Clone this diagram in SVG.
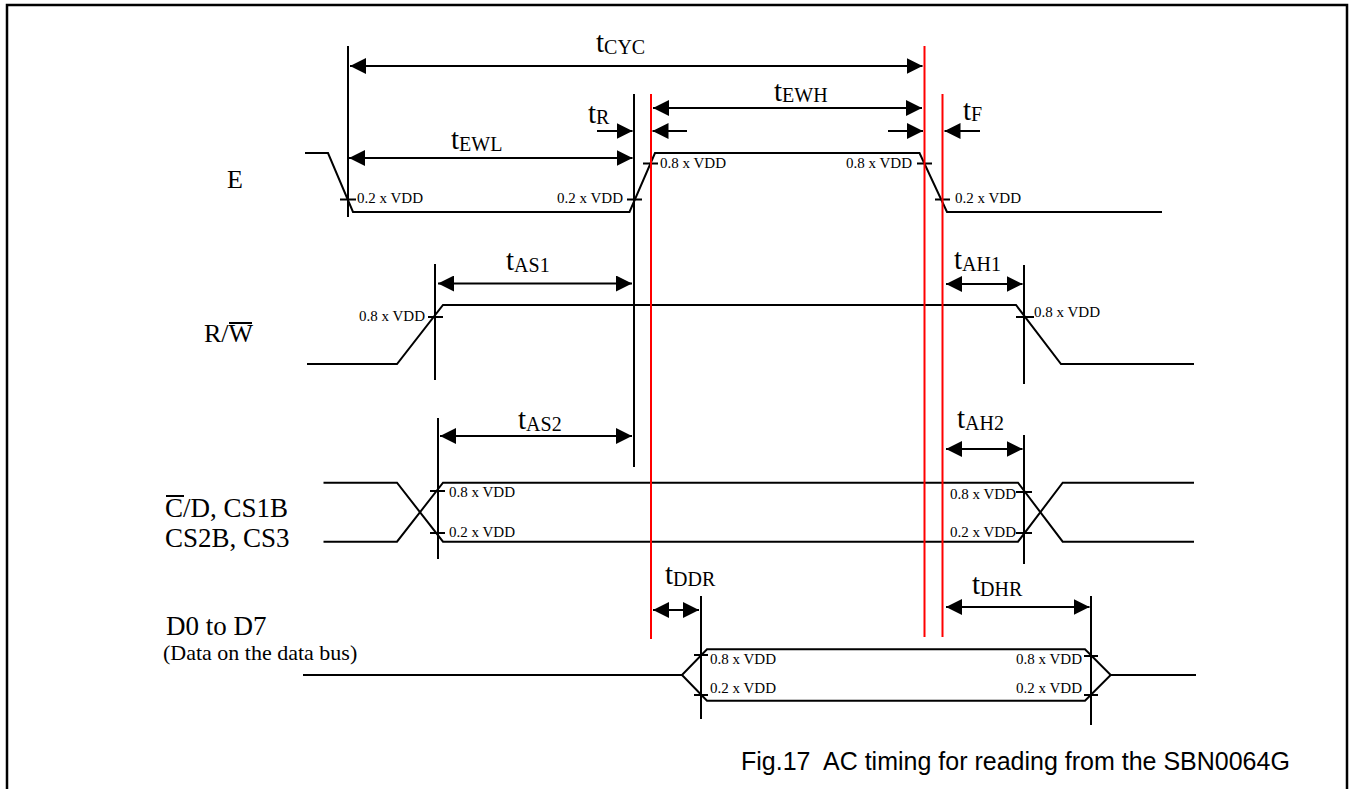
<svg xmlns="http://www.w3.org/2000/svg" width="1353" height="789" viewBox="0 0 1353 789">
<defs>
<marker id="ah" markerUnits="userSpaceOnUse" markerWidth="16" markerHeight="16" refX="16" refY="8" orient="auto-start-reverse" viewBox="0 0 16 16"><path d="M0,0 L16,8 L0,16 Z" fill="#000"/></marker>
</defs>
<style>
.ln{stroke:#000;stroke-width:2;fill:none}
.red{stroke:#ff0000;stroke-width:2;fill:none}
.ar{stroke:#000;stroke-width:2;fill:none;marker-end:url(#ah)}
.ar2{stroke:#000;stroke-width:2;fill:none;marker-start:url(#ah);marker-end:url(#ah)}
.sig{font-family:"Liberation Serif","Times New Roman",serif;font-size:26px;fill:#000}
.sig2{font-family:"Liberation Serif","Times New Roman",serif;font-size:27px;fill:#000}
.dsc{font-family:"Liberation Serif","Times New Roman",serif;font-size:22px;fill:#000}
.v{font-family:"Liberation Serif","Times New Roman",serif;font-size:15px;fill:#000}
.t{font-family:"Liberation Serif","Times New Roman",serif;font-size:29px;fill:#000}
.sub{font-size:20px}
.cap{font-family:"Liberation Sans",Arial,sans-serif;font-size:25px;fill:#000}
</style>
<rect x="0" y="0" width="1353" height="789" fill="#fff"/>
<path d="M7,795 V5 H1347 V795" fill="none" stroke="#000" stroke-width="2.5"/>

<g id="sig-E">
<text class="sig" x="227" y="188">E</text>
<path class="ln" d="M305,153 H328 L353,212 H629.5 L655,153 H919.5 L947,212 H1162"/>
<path class="ln" d="M340,199.5 H356 M627,199.5 H642 M643,163.5 H658 M917,163.5 H932 M935,199.5 H950"/>
<text class="v" x="357" y="203">0.2 x VDD</text>
<text class="v" x="623" y="203" text-anchor="end">0.2 x VDD</text>
<text class="v" x="660" y="168">0.8 x VDD</text>
<text class="v" x="912" y="168" text-anchor="end">0.8 x VDD</text>
<text class="v" x="955" y="203">0.2 x VDD</text>
</g>

<g id="sig-RW">
<text class="sig" x="204" y="342">R/W</text>
<line class="ln" x1="229" y1="323" x2="252" y2="323"/>
<path class="ln" d="M307,364 H397 L443,305 H1016 L1061,364 H1194"/>
<path class="ln" d="M428,317 H443 M1016,317 H1034"/>
<text class="v" x="425" y="321" text-anchor="end">0.8 x VDD</text>
<text class="v" x="1034" y="317">0.8 x VDD</text>
</g>

<g id="sig-CD">
<text class="sig2" x="165" y="517">C/D, CS1B</text>
<line class="ln" x1="166" y1="496" x2="184" y2="496"/>
<text class="sig2" x="165" y="547">CS2B, CS3</text>
<path class="ln" d="M323.5,482.7 H397 L443,541.7 H1018 L1062.7,482.7 H1194"/>
<path class="ln" d="M323.5,541.7 H397 L443,482.7 H1018 L1062.7,541.7 H1194"/>
<path class="ln" d="M430,491 H445 M430,533 H445 M1016,492 H1032 M1016,533 H1032"/>
<text class="v" x="449" y="497">0.8 x VDD</text>
<text class="v" x="449" y="537">0.2 x VDD</text>
<text class="v" x="1016" y="499" text-anchor="end">0.8 x VDD</text>
<text class="v" x="1016" y="537" text-anchor="end">0.2 x VDD</text>
</g>

<g id="sig-D">
<text class="sig2" x="166" y="635">D0 to D7</text>
<text class="dsc" x="163" y="660">(Data on the data bus)</text>
<path class="ln" d="M303,675 H682 L707,649.3 H1085 L1110.7,675 H1196"/>
<path class="ln" d="M682,675 L707,700.7 H1085 L1110.7,675"/>
<path class="ln" d="M694,655 H708 M694,695 H708 M1084,656 H1098 M1084,695 H1098"/>
<text class="v" x="710" y="664">0.8 x VDD</text>
<text class="v" x="710" y="693">0.2 x VDD</text>
<text class="v" x="1082" y="664" text-anchor="end">0.8 x VDD</text>
<text class="v" x="1082" y="693" text-anchor="end">0.2 x VDD</text>
</g>

<g id="reference-lines">
<path class="ln" d="M348,46 V217 M634,94 V467 M435,264 V380 M1024,265 V384 M438,418 V559 M1024,435 V564 M701,596 V719 M1091,596 V725"/>
<path class="red" d="M651,94 V639 M924.5,46 V637 M942.5,94 V637"/>
</g>

<g id="connectors">
<line class="ar2" x1="350" y1="66" x2="922.5" y2="66"/>
<line class="ar2" x1="349" y1="158" x2="632.5" y2="158"/>
<line class="ar2" x1="653" y1="108" x2="922" y2="108"/>
<line class="ar" x1="597" y1="131" x2="632.5" y2="131"/>
<line class="ar" x1="687" y1="131" x2="652.5" y2="131"/>
<line class="ar" x1="888" y1="131" x2="923" y2="131"/>
<line class="ar" x1="980" y1="131" x2="944.5" y2="131"/>
<line class="ar2" x1="438" y1="283.5" x2="632" y2="283.5"/>
<line class="ar2" x1="946" y1="284" x2="1022.5" y2="284"/>
<line class="ar2" x1="440" y1="436" x2="632" y2="436"/>
<line class="ar2" x1="946" y1="449" x2="1022.5" y2="449"/>
<line class="ar2" x1="653" y1="610" x2="699" y2="610"/>
<line class="ar2" x1="946" y1="607" x2="1089.5" y2="607"/>
</g>

<g id="timing-labels">
<text class="t" x="596" y="52">t<tspan class="sub" dy="2">CYC</tspan></text>
<text class="t" x="451" y="149">t<tspan class="sub" dy="2">EWL</tspan></text>
<text class="t" x="588" y="123">t<tspan class="sub" dy="1">R</tspan></text>
<text class="t" x="774" y="101">t<tspan class="sub" dy="1">EWH</tspan></text>
<text class="t" x="963" y="120">t<tspan class="sub" dy="1">F</tspan></text>
<text class="t" x="506" y="270">t<tspan class="sub" dy="2">AS1</tspan></text>
<text class="t" x="954" y="269">t<tspan class="sub" dy="2">AH1</tspan></text>
<text class="t" x="518" y="429">t<tspan class="sub" dy="2">AS2</tspan></text>
<text class="t" x="957" y="428">t<tspan class="sub" dy="2">AH2</tspan></text>
<text class="t" x="665" y="584">t<tspan class="sub" dy="2">DDR</tspan></text>
<text class="t" x="972" y="594">t<tspan class="sub" dy="2">DHR</tspan></text>
</g>

<text class="cap" x="741" y="770" xml:space="preserve">Fig.17  AC timing for reading from the SBN0064G</text>
</svg>
